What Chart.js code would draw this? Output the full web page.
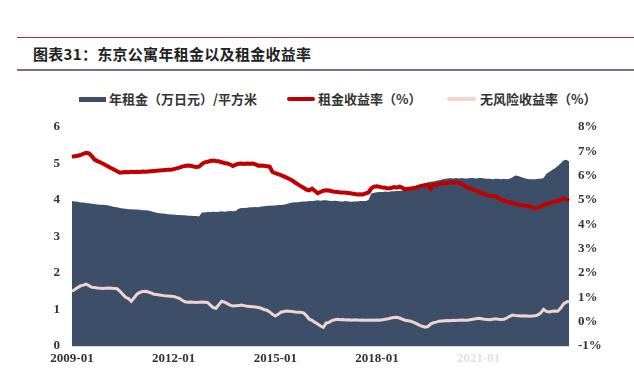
<!DOCTYPE html>
<html>
<head>
<meta charset="utf-8">
<script src="https://cdn.jsdelivr.net/npm/chart.js@4"></script>
<style>
  body { margin: 0; background: #fff; }
  .wrap { position: relative; width: 634px; height: 371px; overflow: hidden; background: #fff; }
  .rule_top { position: absolute; left: 17px; right: 0; top: 37px; height: 1px; background: #a8323e; }
  .rule_bottom { position: absolute; left: 17px; right: 0; top: 69px; height: 2px; background: #8a6b73; }
  .title { position: absolute; left: 33px; top: 43px; font: bold 15px "Noto Sans CJK SC", sans-serif; color: #222; letter-spacing: 0.3px; white-space: nowrap; }
  .legend { position: absolute; top: 90px; left: 0; width: 634px; height: 18px; font: bold 13px "Noto Sans CJK SC", sans-serif; color: #333; }
  .legend span { position: absolute; top: 0; line-height: 18px; white-space: nowrap; }
  .legend i { position: absolute; display: block; }
  canvas { position: absolute; left: 0; top: 0; }
</style>
</head>
<body>
<div class="wrap">
  <div class="rule_top"></div>
  <div class="title">图表31：东京公寓年租金以及租金收益率</div>
  <div class="rule_bottom"></div>
  <div class="legend">
    <i style="left:79px;top:7px;width:27px;height:5px;background:#3d4f68"></i>
    <span style="left:109px">年租金（万日元）/平方米</span>
    <i style="left:287px;top:7px;width:28px;height:4px;background:#c00000;border-radius:2px"></i>
    <span style="left:318px">租金收益率（%）</span>
    <i style="left:447px;top:7px;width:29px;height:4px;background:#f2d3d0;border-radius:2px"></i>
    <span style="left:480px">无风险收益率（%）</span>
  </div>
  <canvas id="chart" width="634" height="371"></canvas>
</div>
<script>
// monthly series, 2009-01 .. 2023-09
const startYear = 2009;
const tickLabels = ["2009-01", "2012-01", "2015-01", "2018-01", "2021-01"];

// 年租金（万日元）/平方米  (left axis)
const rentPerSqm = [
  3.97,3.96,3.95,3.93,3.93,3.92,3.91,3.90,3.89,3.88,3.87,3.87,
  3.86,3.85,3.83,3.81,3.80,3.78,3.77,3.76,3.75,3.75,3.74,3.74,
  3.73,3.72,3.72,3.71,3.69,3.67,3.65,3.64,3.63,3.62,3.61,3.60,
  3.60,3.59,3.59,3.58,3.58,3.57,3.57,3.56,3.56,3.55,3.66,3.66,
  3.67,3.67,3.68,3.67,3.68,3.69,3.68,3.69,3.70,3.69,3.70,3.76,
  3.78,3.78,3.79,3.80,3.80,3.81,3.80,3.82,3.83,3.84,3.84,3.85,
  3.85,3.86,3.86,3.87,3.89,3.91,3.93,3.94,3.94,3.95,3.96,3.96,
  3.97,3.97,3.98,3.99,3.98,3.99,3.99,3.98,3.97,3.98,3.97,3.96,
  3.96,3.97,3.96,3.95,3.96,3.96,3.97,3.97,3.97,4.00,4.18,4.20,
  4.21,4.22,4.22,4.23,4.22,4.24,4.24,4.25,4.25,4.26,4.27,4.30,
  4.33,4.36,4.39,4.41,4.43,4.46,4.48,4.50,4.51,4.53,4.54,4.56,
  4.58,4.59,4.60,4.59,4.60,4.59,4.60,4.59,4.59,4.60,4.60,4.59,
  4.60,4.60,4.59,4.58,4.58,4.57,4.58,4.58,4.57,4.58,4.57,4.58,
  4.62,4.67,4.66,4.63,4.60,4.58,4.57,4.57,4.57,4.58,4.58,4.60,
  4.72,4.77,4.82,4.87,4.93,5.00,5.08,5.10,5.06
];

// 租金收益率（%）  (right axis)
const rentYield = [
  6.78,6.80,6.82,6.85,6.90,6.94,6.92,6.80,6.66,6.60,6.55,6.49,
  6.43,6.37,6.30,6.24,6.18,6.12,6.14,6.15,6.14,6.16,6.15,6.16,
  6.15,6.17,6.16,6.17,6.18,6.19,6.20,6.21,6.22,6.23,6.24,6.24,
  6.27,6.30,6.33,6.37,6.40,6.42,6.41,6.38,6.36,6.37,6.48,6.55,
  6.57,6.60,6.62,6.60,6.59,6.55,6.52,6.50,6.46,6.40,6.45,6.49,
  6.50,6.48,6.50,6.49,6.50,6.46,6.41,6.42,6.41,6.39,6.37,6.15,
  6.10,6.06,6.02,5.97,5.92,5.86,5.80,5.72,5.64,5.57,5.50,5.43,
  5.40,5.47,5.38,5.28,5.33,5.38,5.40,5.39,5.36,5.34,5.33,5.31,
  5.31,5.30,5.29,5.27,5.25,5.23,5.24,5.23,5.27,5.31,5.48,5.55,
  5.56,5.54,5.51,5.50,5.47,5.49,5.53,5.51,5.55,5.50,5.43,5.46,
  5.47,5.50,5.52,5.56,5.59,5.61,5.63,5.45,5.64,5.62,5.66,5.69,
  5.70,5.71,5.72,5.73,5.72,5.72,5.65,5.58,5.51,5.48,5.44,5.39,
  5.34,5.29,5.24,5.19,5.17,5.16,5.15,5.08,5.00,4.97,4.93,4.90,
  4.88,4.85,4.82,4.79,4.77,4.76,4.74,4.70,4.66,4.68,4.73,4.80,
  4.83,4.86,4.90,4.94,4.97,5.02,5.08,5.02,4.98
];

// 无风险收益率（%）  (right axis)
const riskFreeYield = [
  1.25,1.32,1.40,1.47,1.50,1.54,1.48,1.41,1.40,1.38,1.37,1.36,
  1.37,1.38,1.37,1.36,1.35,1.25,1.12,1.00,0.95,0.84,0.98,1.13,
  1.20,1.24,1.25,1.22,1.18,1.13,1.12,1.10,1.08,1.06,1.05,1.04,
  1.03,1.00,0.96,0.88,0.82,0.80,0.81,0.80,0.79,0.80,0.81,0.80,
  0.79,0.68,0.58,0.55,0.70,0.84,0.80,0.74,0.68,0.64,0.65,0.66,
  0.68,0.66,0.63,0.62,0.61,0.60,0.58,0.55,0.50,0.47,0.40,0.30,
  0.23,0.30,0.39,0.42,0.44,0.43,0.42,0.40,0.39,0.39,0.36,0.25,
  0.10,0.05,-0.02,-0.10,-0.18,-0.23,-0.06,-0.03,0.04,0.08,0.10,0.08,
  0.09,0.07,0.08,0.06,0.08,0.07,0.06,0.07,0.06,0.06,0.07,0.06,
  0.07,0.06,0.08,0.10,0.12,0.15,0.17,0.18,0.15,0.10,0.06,0.04,
  0.02,-0.03,-0.08,-0.14,-0.19,-0.23,-0.20,-0.10,-0.04,-0.02,0.02,0.03,
  0.04,0.05,0.04,0.06,0.05,0.06,0.07,0.06,0.06,0.08,0.10,0.12,
  0.14,0.12,0.10,0.09,0.08,0.10,0.12,0.10,0.09,0.10,0.15,0.22,
  0.27,0.25,0.24,0.23,0.24,0.23,0.22,0.23,0.24,0.28,0.36,0.51,
  0.42,0.40,0.43,0.44,0.43,0.55,0.72,0.80,0.84
];

const months = rentPerSqm.map((v, i) => {
  const y = startYear + Math.floor(i / 12);
  const m = (i % 12) + 1;
  return `${y}-${String(m).padStart(2, "0")}`;
});

const axisFont = { family: "'Liberation Serif', 'Times New Roman', serif", size: 13, weight: "bold" };

new Chart(document.getElementById("chart"), {
  type: "line",
  data: {
    labels: months,
    datasets: [
      {
        label: "年租金（万日元）/平方米",
        data: rentPerSqm,
        yAxisID: "y",
        fill: "origin",
        backgroundColor: "#3d4f68",
        borderWidth: 0,
        pointRadius: 0,
        tension: 0,
        order: 3
      },
      {
        label: "租金收益率（%）",
        data: rentYield,
        yAxisID: "y1",
        borderColor: "#c00000",
        borderWidth: 4,
        pointRadius: 0,
        fill: false,
        order: 1
      },
      {
        label: "无风险收益率（%）",
        data: riskFreeYield,
        yAxisID: "y1",
        borderColor: "#f2d3d0",
        borderWidth: 3,
        pointRadius: 0,
        fill: false,
        order: 2
      }
    ]
  },
  options: {
    responsive: false,
    animation: false,
    devicePixelRatio: 1,
    layout: { padding: { top: 127, left: 0, right: 0, bottom: 0 } },
    plugins: { legend: { display: false }, tooltip: { enabled: false } },
    scales: {
      x: {
        offset: false,
        grid: { display: false, drawTicks: false },
        border: { display: true, color: "#d5dbe3" },
        ticks: {
          autoSkip: false,
          maxRotation: 0,
          padding: 5,
          font: axisFont,
          color: (ctx) => (ctx.tick && ctx.tick.label === "2021-01" ? "#e2e2e2" : "#333"),
          callback: function (value) {
            const lab = this.getLabelForValue(value);
            return tickLabels.includes(lab) ? lab : "";
          }
        },
        afterFit: (scale) => { scale.height = 25; }
      },
      y: {
        position: "left",
        min: 0,
        max: 6,
        grid: { display: false, drawTicks: false },
        border: { display: false },
        ticks: { stepSize: 1, padding: 12, font: axisFont, color: "#333" },
        afterFit: (scale) => { scale.width = 72; }
      },
      y1: {
        position: "right",
        min: -1,
        max: 8,
        grid: { display: false, drawTicks: false },
        border: { display: false },
        ticks: {
          stepSize: 1,
          padding: 9,
          font: axisFont,
          color: "#333",
          callback: (v) => v + "%"
        },
        afterFit: (scale) => { scale.width = 65; }
      }
    }
  }
});
</script>
</body>
</html>
